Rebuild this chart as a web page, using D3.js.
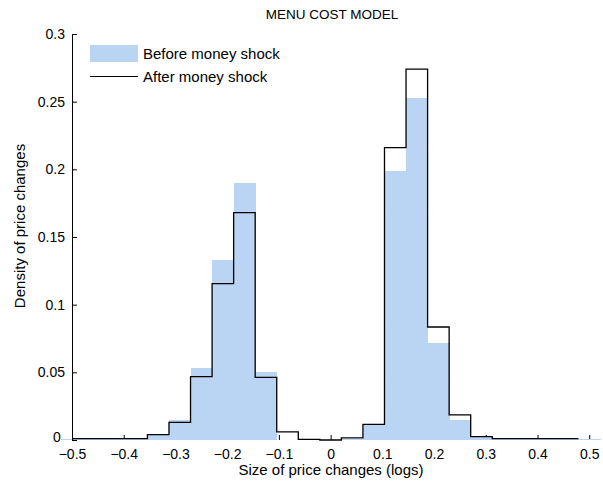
<!DOCTYPE html>
<html>
<head>
<meta charset="utf-8">
<script src="https://cdn.jsdelivr.net/npm/d3@7"></script>
<style>
  body { margin: 0; background: #fff; }
  svg { font-family: "Liberation Sans", Arial, sans-serif; }
</style>
</head>
<body>
<div id="chart"></div>
<script>
// bin centres are k/24, k = -12..12
const binIndex = d3.range(-12, 13);
const binWidth = 1 / 24;

// density before the shock (blue bars)
const before = [
  0.001, 0.001, 0.001, 0.0015, 0.0045, 0.015, 0.053, 0.133, 0.19, 0.05, 0, 0,
  0, 0.001, 0.011, 0.199, 0.253, 0.0717, 0.0148, 0.0025, 0.001, 0.001, 0.001, 0.001, 0.001,
];
// density after the shock (black stairs), last bin not drawn
const after = [
  0.001, 0.001, 0.001, 0.001, 0.004, 0.013, 0.0468, 0.1155, 0.168, 0.0463, 0.006, 0.0005,
  0, 0.0015, 0.0115, 0.216, 0.274, 0.0835, 0.0185, 0.0025, 0.001, 0.001, 0.001, 0.001, null,
];

const xTicks = [-0.5, -0.4, -0.3, -0.2, -0.1, 0, 0.1, 0.2, 0.3, 0.4, 0.5];
const yTicks = [0, 0.05, 0.1, 0.15, 0.2, 0.25, 0.3];

const width = 603,
  height = 486;
const margin = { left: 72, top: 34, right: 3, bottom: 46 };
const blue = "#bad4f4";

const x = d3
  .scaleLinear()
  .domain([-0.5, 0.5 + binWidth / 2])
  .range([margin.left, width - margin.right]);
const y = d3
  .scaleLinear()
  .domain([0, 0.3])
  .range([height - margin.bottom, margin.top]);

const svg = d3
  .select("#chart")
  .append("svg")
  .attr("width", width)
  .attr("height", height)
  .attr("viewBox", [0, 0, width, height]);

// x axis (ticks inward)
const xAxis = svg
  .append("g")
  .attr("transform", `translate(0, ${y(0)})`)
  .call(
    d3
      .axisBottom(x)
      .tickValues(xTicks)
      .tickSizeInner(-5)
      .tickSizeOuter(0)
      .tickPadding(8)
      .tickFormat((d) => (d === 0 ? "0" : d3.format(".1f")(d)))
  );
xAxis.select(".domain").remove();
xAxis.selectAll("text").attr("font-size", 14).attr("fill", "#000").attr("dy", "0.8em");

// bars of the "before" distribution
svg
  .append("g")
  .attr("shape-rendering", "crispEdges")
  .selectAll("rect")
  .data(binIndex)
  .join("rect")
  .attr("x", (k, i) => x(k * binWidth - binWidth / 2))
  .attr("width", (k) => x(binWidth) - x(0) + 0.5)
  .attr("y", (k, i) => y(before[i]))
  .attr("height", (k, i) => y(0) - y(before[i]))
  .attr("fill", blue);

// stairs of the "after" distribution
const steps = [];
binIndex.forEach((k, i) => {
  if (after[i] === null) return;
  const x0 = Math.max(-0.5, k * binWidth - binWidth / 2);
  steps.push([x0, after[i]], [k * binWidth + binWidth / 2, after[i]]);
});
svg
  .append("path")
  .datum(steps)
  .attr("fill", "none")
  .attr("stroke", "#000")
  .attr("stroke-width", 1.3)
  .attr("d", d3.line().x((d) => x(d[0])).y((d) => y(d[1])));

// y axis (ticks inward)
const yAxis = svg
  .append("g")
  .attr("transform", `translate(${margin.left}, 0)`)
  .call(
    d3
      .axisLeft(y)
      .tickValues(yTicks)
      .tickSizeInner(-5)
      .tickSizeOuter(0)
      .tickPadding(7)
      .tickFormat((d) => String(+d.toFixed(2)))
  );
yAxis.select(".domain").attr("stroke", "#000");
yAxis.selectAll("text").attr("font-size", 14).attr("fill", "#000");
// lift the "0" a little so it clears the x tick label below it
yAxis.selectAll("text").filter((d) => d === 0).attr("dy", "0.1em").attr("dx", "-0.3em");

// titles
svg
  .append("text")
  .attr("x", 332)
  .attr("y", 19)
  .attr("text-anchor", "middle")
  .attr("font-size", 13.5)
  .text("MENU COST MODEL");

svg
  .append("text")
  .attr("x", 331)
  .attr("y", 475)
  .attr("text-anchor", "middle")
  .attr("font-size", 15)
  .text("Size of price changes (logs)");

svg
  .append("text")
  .attr("transform", "translate(25, 226) rotate(-90)")
  .attr("text-anchor", "middle")
  .attr("font-size", 15)
  .text("Density of price changes");

// legend
const legend = svg.append("g").attr("font-size", 15);
legend.append("rect").attr("x", 90).attr("y", 45).attr("width", 48).attr("height", 17).attr("fill", blue);
legend.append("text").attr("x", 143).attr("y", 54).attr("dy", "0.35em").text("Before money shock");
legend
  .append("line")
  .attr("x1", 90)
  .attr("x2", 138)
  .attr("y1", 76.5)
  .attr("y2", 76.5)
  .attr("stroke", "#000")
  .attr("stroke-width", 1.2);
legend.append("text").attr("x", 143).attr("y", 76.5).attr("dy", "0.35em").text("After money shock");
</script>
</body>
</html>
